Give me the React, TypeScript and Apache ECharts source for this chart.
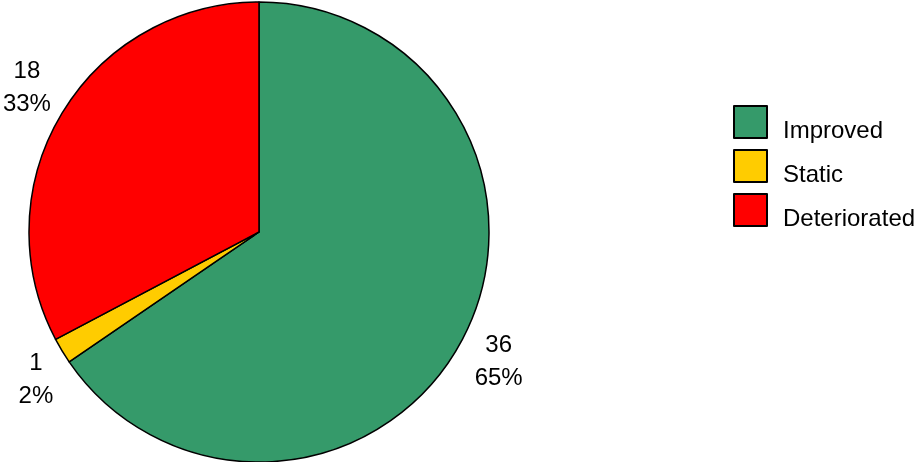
import React, { useEffect, useRef } from "react";
import * as echarts from "echarts";

const categories = ["Improved", "Static", "Deteriorated"];
const values = [36, 1, 18];
const colors = ["#359a6a", "#ffcc00", "#ff0000"];

const CX = 259;
const CY = 232;
const R = 230;
const LABEL_R = 271;
// small visual nudges of the outside labels [dx, dy]
const labelNudge = [
  [0, 2],
  [9, 6],
  [0, -6],
];

export default function App() {
  const ref = useRef<HTMLDivElement>(null);
  useEffect(() => {
    if (!ref.current) return;
    const chart = echarts.init(ref.current, undefined, { renderer: "svg" });
    const total = values.reduce((a, b) => a + b, 0);
    const mids: number[] = [];
    let acc = 0;
    values.forEach((v) => {
      mids.push(((acc + v / 2) / total) * Math.PI * 2);
      acc += v;
    });
    chart.setOption({
      animation: false,
      textStyle: { fontFamily: "Liberation Sans, Arial, sans-serif" },
      legend: {
        orient: "vertical",
        left: 733,
        top: 105,
        padding: 0,
        itemWidth: 33,
        itemHeight: 32,
        itemGap: 8,
        icon: "rect",
        formatter: "{t|{name}}",
        textStyle: {
          fontSize: 24,
          color: "#000",
          padding: [0, 0, 0, 11],
          rich: {
            t: {
              fontSize: 24,
              color: "#000",
              fontFamily: "Liberation Sans, Arial, sans-serif",
              padding: [14, 0, 0, 0],
            },
          },
        },
        data: categories,
      },
      series: [
        {
          type: "pie",
          center: [CX, CY],
          radius: [0, R],
          startAngle: 90,
          clockwise: true,
          avoidLabelOverlap: false,
          data: categories.map((c, i) => ({
            name: c,
            value: values[i],
            itemStyle: { color: colors[i] },
          })),
          itemStyle: { borderColor: "#000", borderWidth: 1.5 },
          emphasis: { disabled: true },
          label: {
            show: true,
            position: "outside",
            fontSize: 24,
            lineHeight: 33,
            color: "#000",
            align: "center",
            overflow: "none",
            bleedMargin: 0,
            formatter: (p: any) => `${p.value}\n${Math.round(p.percent)}%`,
          },
          labelLine: { show: false },
          labelLayout: (params: any) => {
            const i = params.dataIndex;
            const a = mids[i];
            return {
              x: CX + LABEL_R * Math.sin(a) + labelNudge[i][0],
              y: CY - LABEL_R * Math.cos(a) + labelNudge[i][1],
              align: "center",
              verticalAlign: "middle",
            };
          },
        },
      ],
    });
    return () => chart.dispose();
  }, []);
  return (
    <div
      ref={ref}
      style={{ position: "fixed", left: 0, top: 0, width: 918, height: 462 }}
    />
  );
}
